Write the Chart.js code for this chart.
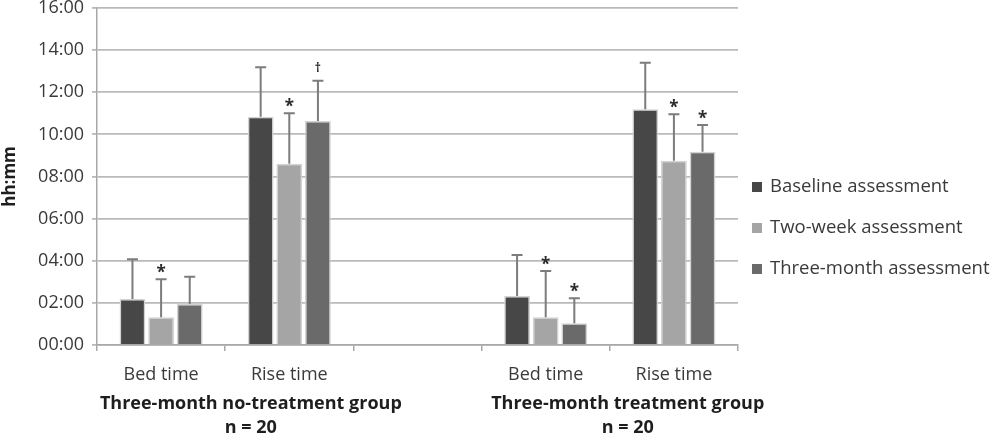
<!DOCTYPE html>
<html>
<head>
<meta charset="utf-8">
<script src="https://cdn.jsdelivr.net/npm/chart.js@4.4.1/dist/chart.umd.min.js"></script>
<style>
  html, body { margin: 0; padding: 0; background: #ffffff; }
  #wrap { width: 1000px; height: 446px; position: relative; }
</style>
</head>
<body>
<div id="wrap"><canvas id="c" width="1000" height="446"></canvas></div>
<script>
// ---- data (hours after midnight) ----
const categories = ['Bed time', 'Rise time', '', 'Bed time', 'Rise time'];
const seriesNames = ['Baseline assessment', 'Two-week assessment', 'Three-month assessment'];
const baselineMean   = [2.18, 10.84, null, 2.33, 11.19];
const twoWeekMean    = [1.32, 8.60, null, 1.32, 8.75];
const threeMonthMean = [1.95, 10.64, null, 1.03, 9.18];
const baselineSD     = [1.89, 2.35, null, 1.94, 2.21];
const twoWeekSD      = [1.80, 2.40, null, 2.19, 2.20];
const threeMonthSD   = [1.29, 1.91, null, 1.19, 1.27];
const baselineMarks   = ['', '', '', '', ''];
const twoWeekMarks    = ['*', '*', '', '*', '*'];
const threeMonthMarks = ['', '\u2020', '', '*', '*'];
const groupNames = ['Three-month no-treatment group', 'Three-month treatment group'];
const groupSizes = ['n = 20', 'n = 20'];
const yTickLabels = ['00:00', '02:00', '04:00', '06:00', '08:00', '10:00', '12:00', '14:00', '16:00'];
const yTitle = 'hh:mm';

const colors = ['#474747', '#a5a5a5', '#6a6a6a'];
const FONT = '"Open Sans", "DejaVu Sans", sans-serif';
const TEXT = '#3a3a3a';

const sds = [baselineSD, twoWeekSD, threeMonthSD];
const marks = [baselineMarks, twoWeekMarks, threeMonthMarks];

const errorBarPlugin = {
  id: 'errorBars',
  afterDatasetsDraw(chart) {
    const ctx = chart.ctx;
    const y = chart.scales.y;
    chart.data.datasets.forEach((ds, i) => {
      const meta = chart.getDatasetMeta(i);
      meta.data.forEach((bar, j) => {
        const v = ds.data[j];
        if (v === null || v === undefined) return;
        const top = y.getPixelForValue(v + sds[i][j]);
        ctx.save();
        ctx.strokeStyle = '#7c7c7c';
        ctx.lineWidth = 2;
        ctx.beginPath();
        ctx.moveTo(bar.x, bar.y);
        ctx.lineTo(bar.x, top);
        ctx.moveTo(bar.x - 5.5, top);
        ctx.lineTo(bar.x + 5.5, top);
        ctx.stroke();
        const m = marks[i][j];
        if (m) {
          ctx.fillStyle = '#2a2a2a';
          ctx.textAlign = 'center';
          ctx.textBaseline = 'alphabetic';
          if (m === '*') {
            ctx.font = 'bold 17px ' + FONT;
            ctx.fillText(m, bar.x, top - 1);
          } else {
            ctx.font = 'bold 12px ' + FONT;
            ctx.fillText(m, bar.x, top - 9);
          }
        }
        ctx.restore();
      });
    });
  }
};

const extraTextPlugin = {
  id: 'extraText',
  afterDraw(chart) {
    const ctx = chart.ctx;
    const x = chart.scales.x;
    const ca = chart.chartArea;
    ctx.save();
    ctx.fillStyle = '#1e1e1e';
    ctx.font = 'bold 18px ' + FONT;
    ctx.textAlign = 'center';
    ctx.textBaseline = 'middle';
    const centers = [x.getPixelForValue(0.7), x.getPixelForValue(3.64)];
    centers.forEach((cx, k) => {
      ctx.fillText(groupNames[k], cx, 404);
      ctx.fillText(groupSizes[k], cx, 428);
    });
    // legend
    ctx.font = '18.5px ' + FONT;
    ctx.textAlign = 'left';
    const lx = ca.right + 14;
    const ly0 = chart.height / 2 + 5 - 41;
    chart.data.datasets.forEach((ds, i) => {
      const yy = ly0 + i * 41;
      ctx.fillStyle = ds.backgroundColor;
      ctx.fillRect(lx, yy - 5, 10, 10);
      ctx.fillStyle = TEXT;
      ctx.fillText(ds.label, lx + 18, yy);
    });
    ctx.restore();
  }
};

const datasets = [baselineMean, twoWeekMean, threeMonthMean].map((d, i) => ({
  label: seriesNames[i],
  data: d,
  backgroundColor: colors[i],
  borderColor: '#d2d2d2',
  borderWidth: 1.5,
  categoryPercentage: 0.67,
  barPercentage: 0.9
}));

new Chart(document.getElementById('c'), {
  type: 'bar',
  data: { labels: categories, datasets },
  options: {
    responsive: false,
    animation: false,
    devicePixelRatio: 1,
    layout: { padding: { left: 0, right: 262, top: 8, bottom: 0 } },
    plugins: { legend: { display: false }, tooltip: { enabled: false } },
    scales: {
      x: {
        grid: { drawOnChartArea: false, drawTicks: true, tickLength: 6, color: '#a8a8a8', lineWidth: 1.5, offset: true },
        border: { color: '#a8a8a8', width: 1.5 },
        ticks: { color: TEXT, font: { family: FONT, size: 18 }, padding: 13, maxRotation: 0, autoSkip: false },
        afterFit: s => { s.height = 101; s.paddingLeft = 0; s.paddingRight = 0; }
      },
      y: {
        min: 0, max: 16,
        grid: { color: '#bababa', lineWidth: 1.8, drawTicks: true, tickLength: 5 },
        border: { color: '#a8a8a8', width: 1.5 },
        ticks: {
          stepSize: 2, color: TEXT, font: { family: FONT, size: 18 }, padding: 8,
          callback: (v, idx) => yTickLabels[idx]
        },
        title: { display: true, text: yTitle, color: '#1e1e1e', font: { family: FONT, size: 17, weight: 'bold' }, padding: { top: 0, bottom: 0 } },
        afterFit: s => { s.width = 97; s.paddingTop = 0; s.paddingBottom = 0; }
      }
    }
  },
  plugins: [errorBarPlugin, extraTextPlugin]
});
</script>
</body>
</html>
